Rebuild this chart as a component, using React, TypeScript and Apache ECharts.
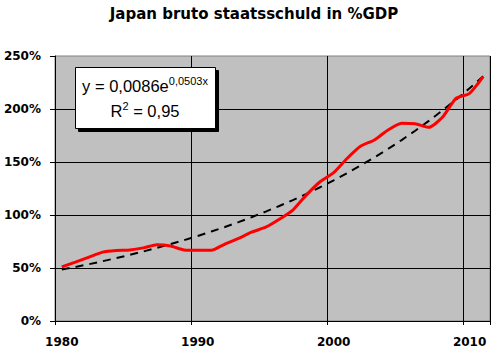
import React, { useEffect, useRef } from "react";
import * as echarts from "echarts";

const years = [
  "1980", "1981", "1982", "1983", "1984", "1985", "1986", "1987", "1988", "1989",
  "1990", "1991", "1992", "1993", "1994", "1995", "1996", "1997", "1998", "1999",
  "2000", "2001", "2002", "2003", "2004", "2005", "2006", "2007", "2008", "2009",
  "2010", "2011",
];

const debt = [
  51, 55.6, 60.3, 65, 66.5, 67, 69, 72, 70.8, 67,
  66.7, 66.7, 72.6, 78, 84, 88.5, 96, 104.7, 119, 131.4,
  140, 153.5, 165, 170.8, 180.2, 186.5, 186, 182.7, 192.2, 210,
  214.8, 230.5,
];

const trend = [
  48.5, 51.0, 53.6, 56.4, 59.3, 62.4, 65.6, 69.0, 72.6, 76.3,
  80.2, 84.4, 88.7, 93.3, 98.1, 103.2, 108.5, 114.1, 120.0, 126.2,
  132.7, 139.6, 146.8, 154.4, 162.3, 170.7, 179.5, 188.8, 198.6, 208.8,
  219.6, 230.9,
];

const titleText = "Japan bruto staatsschuld in %GDP";
const eqMain = "y = 0,0086e";
const eqExp = "0,0503x";
const r2Label = "R";
const r2Exp = "2";
const r2Value = " = 0,95";

export default function App() {
  const ref = useRef<HTMLDivElement>(null);
  useEffect(() => {
    document.body.style.margin = "0";
    const chart = echarts.init(ref.current!, null, { renderer: "svg" });
    const axisFont = {
      fontFamily: "DejaVu Sans",
      fontWeight: "bold" as const,
      fontSize: 12,
      color: "#000",
    };
    const rich = {
      a: { fontFamily: "Liberation Sans", fontSize: 16.5, fill: "#000", lineHeight: 22 },
      s: {
        fontFamily: "Liberation Sans",
        fontSize: 11,
        fill: "#000",
        lineHeight: 11,
        verticalAlign: "top",
      },
    };
    chart.setOption({
      animation: false,
      backgroundColor: "#fff",
      grid: {
        left: 55,
        right: 7,
        top: 56,
        bottom: 32,
        show: true,
        backgroundColor: "#c0c0c0",
        borderColor: "#808080",
        borderWidth: 1,
      },
      xAxis: {
        type: "category",
        data: years,
        boundaryGap: true,
        axisLine: { show: true, lineStyle: { color: "#000", width: 1 } },
        axisTick: { show: true, interval: 9, length: 4, lineStyle: { color: "#000" } },
        axisLabel: { interval: 9, margin: 15, ...axisFont },
        splitLine: { show: true, interval: 9, lineStyle: { color: "#000", width: 1 } },
      },
      yAxis: {
        type: "value",
        min: 0,
        max: 250,
        interval: 50,
        axisLine: { show: true, lineStyle: { color: "#000", width: 1 } },
        axisTick: { show: true, length: 5, lineStyle: { color: "#000" } },
        axisLabel: { formatter: "{value}%", margin: 14, ...axisFont },
        splitLine: {
          show: true,
          showMaxLine: false,
          lineStyle: { color: "#000", width: 1 },
        },
      },
      series: [
        {
          type: "line",
          data: trend,
          symbol: "none",
          lineStyle: { color: "#000", width: 2, type: [8, 6] },
          z: 2,
        },
        {
          type: "line",
          data: debt,
          symbol: "none",
          smooth: 0.2,
          lineStyle: { color: "#ff0000", width: 3 },
          z: 3,
        },
      ],
      graphic: [
        {
          type: "text",
          x: 254,
          y: 14,
          style: {
            text: titleText,
            fontFamily: "DejaVu Sans",
            fontWeight: "bold",
            fontSize: 15,
            fill: "#000",
            textAlign: "center",
            textVerticalAlign: "middle",
          },
        },
        {
          type: "rect",
          shape: { x: 78.5, y: 70.5, width: 140, height: 61 },
          style: { fill: "#000", stroke: "#000", lineWidth: 1 },
          z: 100,
        },
        {
          type: "rect",
          shape: { x: 75.5, y: 67.5, width: 140, height: 61 },
          style: { fill: "#fff", stroke: "#000", lineWidth: 1 },
          z: 101,
        },
        {
          type: "text",
          x: 145,
          y: 86,
          z: 102,
          style: {
            text: "{a|" + eqMain + "}{s|" + eqExp + "}",
            textAlign: "center",
            textVerticalAlign: "middle",
            rich,
          },
        },
        {
          type: "text",
          x: 145,
          y: 111,
          z: 102,
          style: {
            text: "{a|" + r2Label + "}{s|" + r2Exp + "}{a|" + r2Value + "}",
            textAlign: "center",
            textVerticalAlign: "middle",
            rich,
          },
        },
      ],
    });
    return () => chart.dispose();
  }, []);
  return (
    <div
      ref={ref}
      style={{ position: "absolute", left: 0, top: 0, width: 497, height: 353 }}
    />
  );
}
